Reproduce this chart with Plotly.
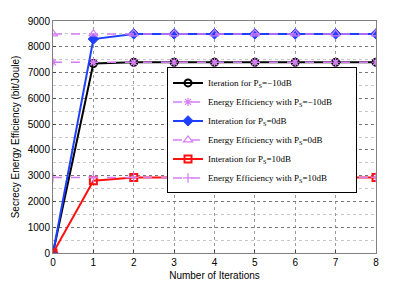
import plotly.graph_objects as go

iterations = [0, 1, 2, 3, 4, 5, 6, 7, 8]
iter_m10 = [0, 7350, 7400, 7400, 7400, 7400, 7400, 7400, 7400]
ee_m10 = [7400] * 9
iter_0 = [0, 8300, 8500, 8500, 8500, 8500, 8500, 8500, 8500]
ee_0 = [8500] * 9
iter_10 = [0, 2800, 2930, 2930, 2930, 2930, 2930, 2930, 2930]
ee_10 = [2930] * 9

names = [
    "Iteration for P<sub>S</sub>=\u221210dB",
    "Energy Efficiency with P<sub>S</sub>=\u221210dB\u2003\u2003",
    "Interation for P<sub>S</sub>=0dB",
    "Energy Efficiency with P<sub>S</sub>=0dB",
    "Interation for P<sub>S</sub>=10dB",
    "Energy Efficiency with P<sub>S</sub>=10dB",
]

mag = "#d67cf5"
blue = "#1f3fff"
red = "#ff1010"
fig = go.Figure()
fig.add_trace(go.Scatter(x=iterations, y=iter_m10, name=names[0], mode="lines+markers",
                         line=dict(color="black", width=2),
                         marker=dict(symbol="circle-open", size=7, color="black", line=dict(width=2))))
fig.add_trace(go.Scatter(x=iterations, y=ee_m10, name=names[1], mode="lines+markers",
                         line=dict(color=mag, width=1.5, dash="dash"),
                         marker=dict(symbol="asterisk-open", size=7, color=mag, line=dict(width=1.2, color=mag))))
fig.add_trace(go.Scatter(x=iterations, y=iter_0, name=names[2], mode="lines+markers",
                         line=dict(color=blue, width=2),
                         marker=dict(symbol="diamond", size=8, color=blue, line=dict(width=1, color=blue))))
fig.add_trace(go.Scatter(x=iterations, y=ee_0, name=names[3], mode="lines+markers",
                         line=dict(color=mag, width=1.5, dash="dash"),
                         marker=dict(symbol="triangle-up-open", size=8, color=mag, line=dict(width=1.2))))
fig.add_trace(go.Scatter(x=iterations, y=iter_10, name=names[4], mode="lines+markers",
                         line=dict(color=red, width=2),
                         marker=dict(symbol="square-open", size=7, color=red, line=dict(width=2))))
fig.add_trace(go.Scatter(x=iterations, y=ee_10, name=names[5], mode="lines+markers",
                         line=dict(color=mag, width=1.5, dash="dash"),
                         marker=dict(symbol="cross-thin-open", size=7, color=mag, line=dict(width=1.2, color=mag))))

axfont = dict(family="Liberation Sans, Arial", size=10, color="black")
fig.update_layout(
    width=399, height=277,
    margin=dict(l=45, r=31, t=13, b=32),
    paper_bgcolor="white", plot_bgcolor="white",
    showlegend=True,
    legend=dict(x=0.353, y=0.80, xanchor="left", yanchor="top",
                bgcolor="white", bordercolor="black", borderwidth=1,
                font=dict(family="Liberation Serif, Times New Roman", size=9, color="black"),
                tracegroupgap=0, itemwidth=30, traceorder="normal"),
    xaxis=dict(range=[0, 8], tickvals=iterations, ticks="inside", ticklen=3,
               showline=True, linecolor="#808080", linewidth=1, mirror=True,
               showgrid=True, gridcolor="#9a9a9a", griddash="dot", gridwidth=1,
               zeroline=False, tickfont=axfont, automargin=False,
               title=dict(text="Number of Iterations", font=axfont, standoff=4)),
    yaxis=dict(range=[0, 9000], dtick=1000, ticks="inside", ticklen=3,
               showline=True, linecolor="#808080", linewidth=1, mirror=True,
               showgrid=True, gridcolor="#777777", griddash="dot", gridwidth=1,
               minor=dict(dtick=500, showgrid=True, gridcolor="#c8c8c8", griddash="dot", ticks=""),
               zeroline=False, tickfont=axfont, automargin=False,
               title=dict(text="Secrecy Energy Efficiency (bit/Joule)", font=axfont, standoff=6)),
)
fig.write_html("out.html")
